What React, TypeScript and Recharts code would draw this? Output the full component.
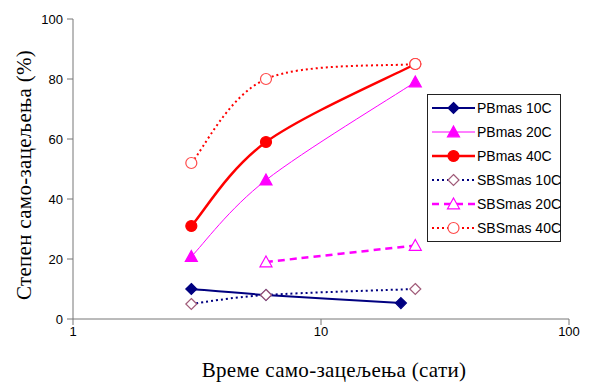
import {
  LineChart,
  Line,
  XAxis,
  YAxis,
  Legend,
} from "recharts";

// hours of self-healing (log axis)
const hoursPB10 = [3, 6, 21];
const hoursMain = [3, 6, 24];
const hoursSBS20 = [6, 24];

// degree of self-healing (%)
const pb10 = [10, 8, 5.3];
const pb20 = [20.8, 46.3, 79];
const pb40 = [31, 59, 85];
const sbs10 = [5, 8, 10];
const sbs20 = [19, 24.5];
const sbs40 = [52, 80, 85];

const xTicks = [1, 10, 100];
const yTicks = [0, 20, 40, 60, 80, 100];

const xTitle = "Време само-зацељења (сати)";
const yTitle = "Степен само-зацељења (%)";

type Shape = "diamond" | "triangle" | "circle";

const toPoints = (xs: number[], ys: number[]) =>
  xs.map((x, i) => ({ x, y: ys[i] }));

const series = [
  { name: "PBmas 10C", data: toPoints(hoursPB10, pb10), color: "#000080", width: 2, dash: undefined, shape: "diamond" as Shape, fill: "#000080", mark: "#000080" },
  { name: "PBmas 20C", data: toPoints(hoursMain, pb20), color: "#ff00ff", width: 1, dash: undefined, shape: "triangle" as Shape, fill: "#ff00ff", mark: "#ff00ff" },
  { name: "PBmas 40C", data: toPoints(hoursMain, pb40), color: "#ff0000", width: 2.5, dash: undefined, shape: "circle" as Shape, fill: "#ff0000", mark: "#ff0000" },
  { name: "SBSmas 10C", data: toPoints(hoursMain, sbs10), color: "#000080", width: 2, dash: "2 3", shape: "diamond" as Shape, fill: "#ffffff", mark: "#a05a78" },
  { name: "SBSmas 20C", data: toPoints(hoursSBS20, sbs20), color: "#ff00ff", width: 2.5, dash: "7 5", shape: "triangle" as Shape, fill: "#ffffff", mark: "#ff00ff" },
  { name: "SBSmas 40C", data: toPoints(hoursMain, sbs40), color: "#ff0000", width: 2, dash: "2 3", shape: "circle" as Shape, fill: "#ffffff", mark: "#ff4a4a" },
];

// Excel-like smoothed line (Catmull-Rom style bezier)
const smoothCurve = (context: any) => {
  let pts: number[][] = [];
  return {
    areaStart() {},
    areaEnd() {},
    lineStart() {
      pts = [];
    },
    point(x: number, y: number) {
      pts.push([+x, +y]);
    },
    lineEnd() {
      const n = pts.length;
      if (!n) return;
      context.moveTo(pts[0][0], pts[0][1]);
      for (let i = 0; i < n - 1; i++) {
        const p0 = pts[Math.max(i - 1, 0)];
        const p1 = pts[i];
        const p2 = pts[i + 1];
        const p3 = pts[Math.min(i + 2, n - 1)];
        context.bezierCurveTo(
          p1[0] + (p2[0] - p0[0]) / 6,
          p1[1] + (p2[1] - p0[1]) / 6,
          p2[0] - (p3[0] - p1[0]) / 6,
          p2[1] - (p3[1] - p1[1]) / 6,
          p2[0],
          p2[1]
        );
      }
    },
  };
};

function Marker({ cx, cy, shape, fill, stroke }: { cx: number; cy: number; shape: Shape; fill: string; stroke: string }) {
  if (shape === "diamond") {
    const r = 5.5;
    return (
      <path
        d={`M${cx},${cy - r} L${cx + r},${cy} L${cx},${cy + r} L${cx - r},${cy} Z`}
        fill={fill}
        stroke={stroke}
        strokeWidth={1.2}
      />
    );
  }
  if (shape === "triangle") {
    const r = 6;
    return (
      <path
        d={`M${cx},${cy - r} L${cx + r},${cy + r * 0.8} L${cx - r},${cy + r * 0.8} Z`}
        fill={fill}
        stroke={stroke}
        strokeWidth={1.2}
      />
    );
  }
  return <circle cx={cx} cy={cy} r={5.5} fill={fill} stroke={stroke} strokeWidth={1.2} />;
}

const makeDot = (shape: Shape, fill: string, stroke: string) => (props: any) => (
  <Marker key={props.index} cx={props.cx} cy={props.cy} shape={shape} fill={fill} stroke={stroke} />
);

const sansFont = "'Liberation Sans', Arial, sans-serif";
const titleFont = "'Liberation Serif', 'Times New Roman', serif";

function LegendBox() {
  return (
    <div
      style={{
        border: "1px solid #222",
        background: "#fff",
        width: 132,
        padding: "1px 0",
        fontFamily: sansFont,
        fontSize: 14,
        color: "#000",
      }}
    >
      {series.map((s) => (
        <div key={s.name} style={{ display: "flex", alignItems: "center", height: 24 }}>
          <svg width={49} height={16} style={{ flex: "none" }}>
            <line
              x1={4}
              x2={47}
              y1={8}
              y2={8}
              stroke={s.color}
              strokeWidth={Math.max(s.width, 1)}
              strokeDasharray={s.dash}
            />
            <Marker cx={25.5} cy={8} shape={s.shape} fill={s.fill} stroke={s.mark} />
          </svg>
          <span style={{ whiteSpace: "nowrap" }}>{s.name}</span>
        </div>
      ))}
    </div>
  );
}

const tickStyle = { fontSize: 13, fill: "#000", fontFamily: sansFont };

export default function App() {
  return (
    <div style={{ position: "absolute", left: 0, top: 0, background: "#fff" }}>
      <LineChart width={589} height={383} margin={{ top: 19, right: 20, bottom: 0, left: 0 }}>
        <XAxis
          type="number"
          dataKey="x"
          scale="log"
          domain={[1, 100]}
          ticks={xTicks}
          allowDataOverflow
          height={64}
          tickSize={6}
          tickMargin={2}
          stroke="#777"
          tick={tickStyle}
          label={() => (
            <text x={334} y={377} textAnchor="middle" fontFamily={titleFont} fontSize={21} letterSpacing={0.3} fill="#000">
              {xTitle}
            </text>
          )}
        />
        <XAxis xAxisId="top" orientation="top" type="number" domain={[0, 1]} height={0} tick={false} tickLine={false} stroke="#666" />
        <YAxis
          type="number"
          domain={[0, 100]}
          ticks={yTicks}
          width={73}
          tickSize={6}
          tickMargin={4}
          stroke="#777"
          tick={tickStyle}
          label={() => (
            <text
              x={24}
              y={175}
              transform="rotate(-90, 24, 175)"
              textAnchor="middle"
              dominantBaseline="central"
              fontFamily={titleFont}
              fontSize={21}
              letterSpacing={0.3}
              fill="#000"
            >
              {yTitle}
            </text>
          )}
        />
        <YAxis yAxisId="right" orientation="right" type="number" domain={[0, 1]} width={0} tick={false} tickLine={false} stroke="#555" />
        {series.map((s) => (
          <Line
            key={s.name}
            data={s.data}
            dataKey="y"
            name={s.name}
            type={smoothCurve as any}
            stroke={s.color}
            strokeWidth={s.width}
            strokeDasharray={s.dash}
            dot={makeDot(s.shape, s.fill, s.mark)}
            activeDot={false}
            isAnimationActive={false}
          />
        ))}
        <Legend
          layout="vertical"
          align="center"
          verticalAlign="middle"
          content={() => <LegendBox />}
          wrapperStyle={{ left: 427, top: 94, width: 134 }}
        />
      </LineChart>
    </div>
  );
}
